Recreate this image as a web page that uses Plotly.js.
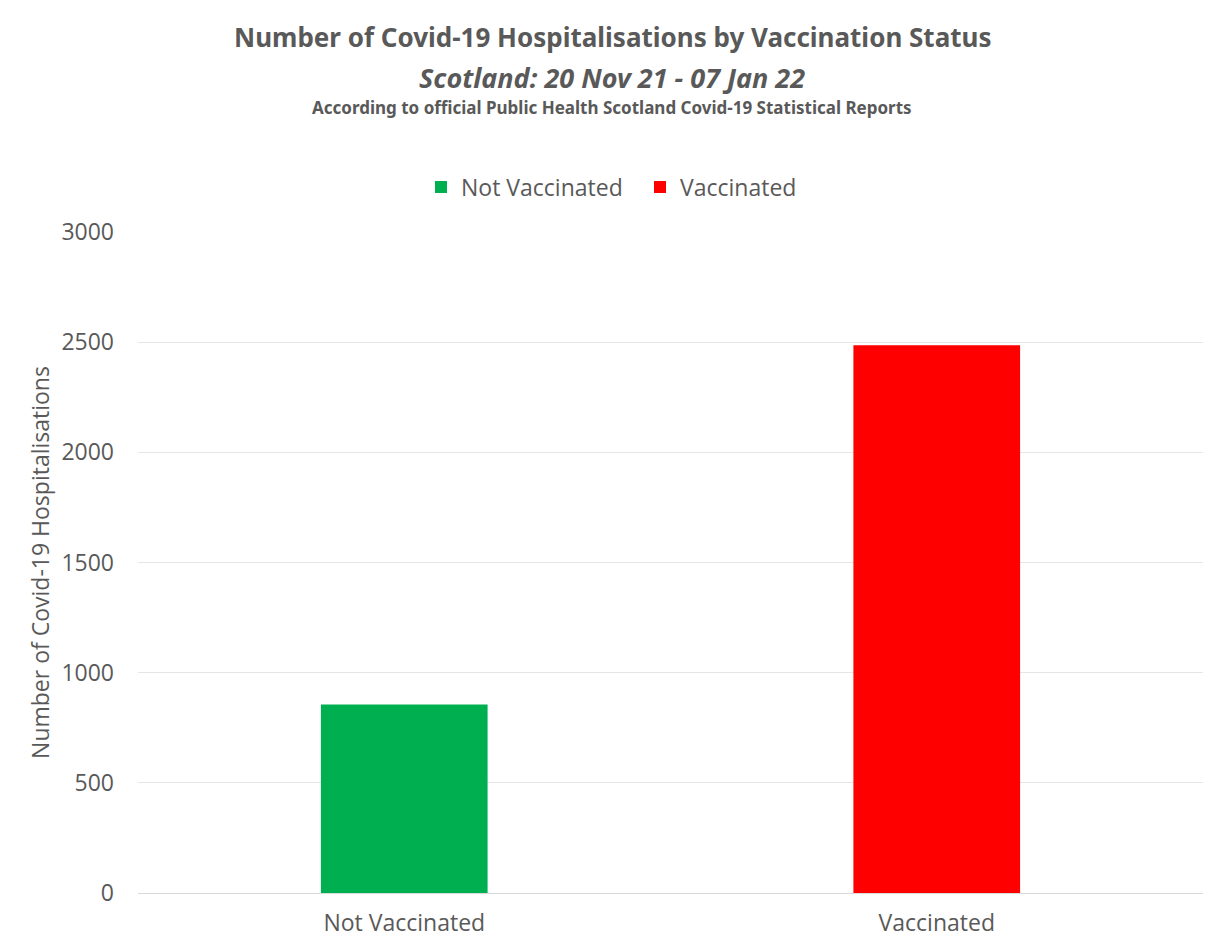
<!DOCTYPE html>
<html>
<head>
<meta charset="utf-8">
<script src="https://cdn.plot.ly/plotly-3.0.1.min.js"></script>
<style>html,body{margin:0;padding:0;background:#fff;}#chart{width:1212px;height:945px;}</style>
</head>
<body>
<div id="chart"></div>
<script>
const categories = ["Not Vaccinated", "Vaccinated"];
const seriesNames = ["Not Vaccinated", "Vaccinated"];
const hospitalisations = [855, 2486];
const seriesColors = ["#00B050", "#FF0000"];
const yTicks = [0, 500, 1000, 1500, 2000, 2500, 3000];

const gray = "#595959";
const traces = seriesNames.map((name, i) => ({
  type: "bar",
  name: name,
  x: [categories[i]],
  y: [hospitalisations[i]],
  marker: {color: seriesColors[i]},
  hoverinfo: "x+y"
}));

const layout = {
  width: 1212, height: 945,
  paper_bgcolor: "#ffffff", plot_bgcolor: "#ffffff",
  margin: {l: 138, r: 9, t: 232, b: 52},
  barmode: "overlay",
  bargap: 0.687,
  font: {family: "Open Sans, sans-serif", color: gray, size: 23},
  showlegend: true,
  legend: {orientation: "h", xanchor: "left", yref: "container", xref: "container",
           entrywidth: 174, font: {size: 23, color: gray}},
  xaxis: {type: "category", categoryorder: "array", categoryarray: categories,
          showgrid: false, zeroline: false, showline: false,
          tickfont: {size: 23, color: gray}, ticks: "", ticklabelstandoff: 14},
  yaxis: {range: [0, 3000], tickvals: yTicks, ticktext: yTicks.map(String),
          showgrid: true, gridcolor: "#E6E6E6", gridwidth: 1, zeroline: true, zerolinecolor: "#D9D9D9",
          showline: false, ticks: "", ticklen: 0, tickfont: {size: 23, color: gray}, ticklabelstandoff: 23,
          title: {text: "Number of Covid-19 Hospitalisations", font: {size: 23, color: gray}, standoff: 5}},
  annotations: [
    {text: "<b>Number of Covid-19 Hospitalisations by Vaccination Status</b>", showarrow: false,
     font: {family: "Noto Sans, sans-serif", size: 26, color: gray}},
    {text: "<b><i>Scotland: 20 Nov 21 - 07 Jan 22</i></b>", showarrow: false,
     font: {family: "Noto Sans, sans-serif", size: 27, color: gray}},
    {text: "<b>According to official Public Health Scotland Covid-19 Statistical Reports</b>", showarrow: false,
     font: {family: "Noto Sans, sans-serif", size: 17, color: gray}}
  ]
};
// place title lines in pixel coordinates of the page
const titleY = [37, 78, 108];
layout.annotations.forEach((a, i) => {
  a.xref = "paper"; a.yref = "paper";
  a.x = (612 - 138) / (1212 - 138 - 9);
  a.y = (945 - 52 - titleY[i]) / (945 - 232 - 52);
  a.xanchor = "center"; a.yanchor = "middle";
});
layout.legend.x = 421 / 1212;
layout.legend.y = (945 - 187) / 945; layout.legend.yanchor = "middle";

Plotly.newPlot("chart", traces, layout, {displayModeBar: false, staticPlot: true});
</script>
</body>
</html>
